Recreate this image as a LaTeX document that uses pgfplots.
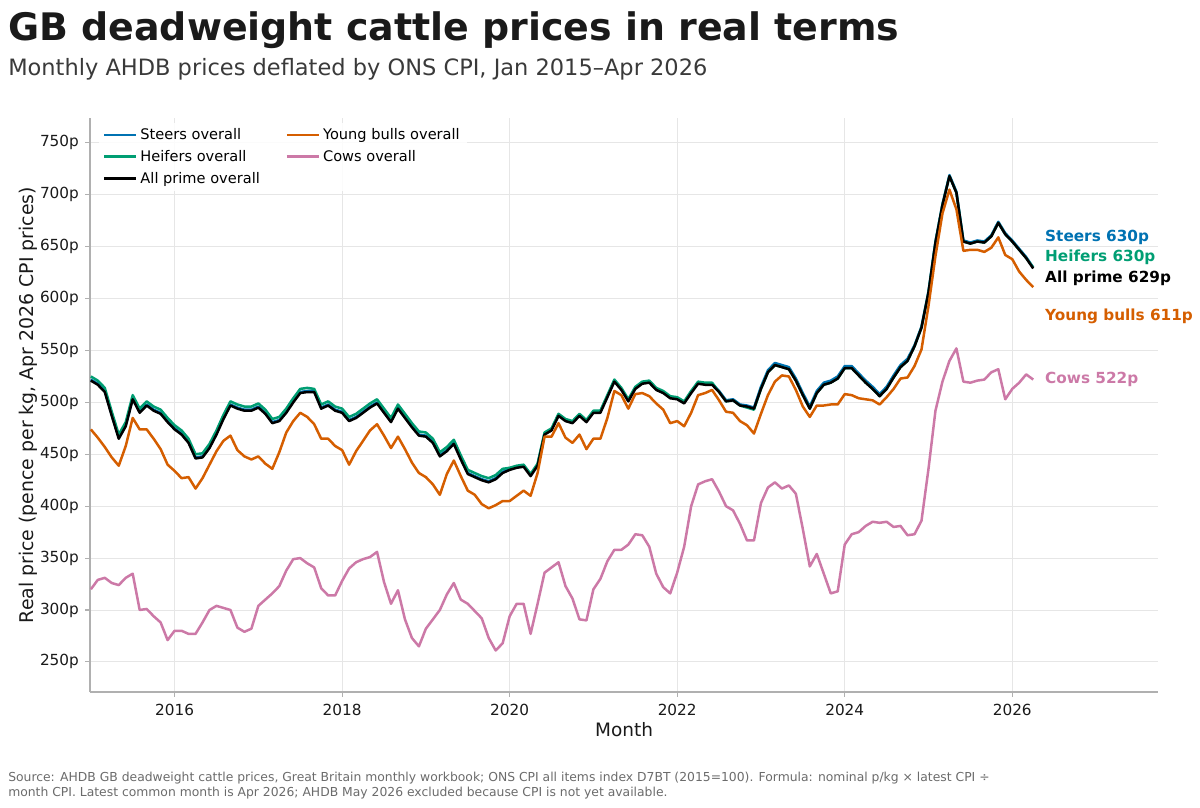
\documentclass[border=0pt]{standalone}
\usepackage{fontspec}
\setmainfont{DejaVu Sans}
\usepackage{pgfplots}
\usepackage{pgfplotstable}
\pgfplotsset{compat=1.18}
\definecolor{cst}{HTML}{0072B2}
\definecolor{che}{HTML}{009E73}
\definecolor{cyb}{HTML}{D55E00}
\definecolor{cco}{HTML}{CC79A7}
\definecolor{gridc}{HTML}{E6E6E6}
\definecolor{spinec}{HTML}{B0B0B0}
\definecolor{titlec}{HTML}{1A1A1A}
\definecolor{subc}{HTML}{3A3A3A}
\definecolor{srcc}{HTML}{6B6B6B}
\pgfplotstableread{
m st he pr yb co
0 522 525 521 474 320
1 518 521 517 466 329
2 511 514 510 457 331
3 488 491 487 447 326
4 466 469 465 439 324
5 478 481 477 458 331
6 504 507 503 485 335
7 491 494 490 474 300
8 498 501 497 474 301
9 493 496 492 465 294
10 490 493 489 455 288
11 482 485 481 440 271
12 475 478 474 434 280
13 470 473 469 427 280
14 462 465 461 428 277
15 447 450 446 417 277
16 448 451 447 427 288
17 457 460 456 440 300
18 470 473 469 453 304
19 485 488 484 463 302
20 498 501 497 468 300
21 495 498 494 454 283
22 493 496 492 448 279
23 493 496 492 445 282
24 496 499 495 448 304
25 490 493 489 441 310
26 481 484 480 436 316
27 483 486 482 452 323
28 491 494 490 471 338
29 501 504 500 482 349
30 510 513 509 490 350
31 511 514 510 486 345
32 511 513 510 479 341
33 495 498 494 465 321
34 498 501 497 465 314
35 493 496 492 458 314
36 491 494 490 454 328
37 483 486 482 440 340
38 486 489 485 453 346
39 491 494 490 463 349
40 496 499 495 473 351
41 500 503 499 479 356
42 491 494 490 468 327
43 482 485 481 456 306
44 495 498 494 467 319
45 486 489 485 455 291
46 477 480 476 442 273
47 469 472 468 432 265
48 468 471 467 428 282
49 462 465 461 421 291
50 449 452 448 411 300
51 454 457 453 431 315
52 461 464 460 444 326
53 446 449 445 429 310
54 432 435 431 415 306
55 429 432 428 411 299
56 426 429 425 402 292
57 424 427 423 398 273
58 427 430 426 401 261
59 433 436 432 405 268
60 436 437 435 405 294
61 438 439 437 410 306
62 439 440 438 415 306
63 430 431 429 410 277
64 440 441 439 432 306
65 470 471 469 467 336
66 474 475 473 467 341
67 488 489 487 480 346
68 483 484 482 466 323
69 481 482 480 461 311
70 488 489 487 469 291
71 482 483 481 455 290
72 491 492 490 465 320
73 491 492 490 465 330
74 506 507 505 485 347
75 521 522 520 511 358
76 513 514 512 507 358
77 502 503 501 494 363
78 514 515 513 508 373
79 519 520 518 509 372
80 520 521 519 506 361
81 513 514 512 499 335
82 510 511 509 493 322
83 505 506 504 480 316
84 504 505 503 482 336
85 500 501 499 477 361
86 510 511 509 490 400
87 519 520 518 507 421
88 518 519 517 509 424
89 518 519 517 512 426
90 511 510 510 502 414
91 502 501 501 491 400
92 503 502 502 490 396
93 498 497 497 482 383
94 497 495 496 478 367
95 495 493 494 470 367
96 515 513 513 489 403
97 531 529 529 507 418
98 538 536 536 520 423
99 536 534 534 526 417
100 534 532 532 525 420
101 523 521 521 512 412
102 509 507 507 496 378
103 496 494 494 486 342
104 511 509 509 497 354
105 519 517 517 497 335
106 521 519 519 498 316
107 525 523 523 498 318
108 535 533 533 508 363
109 535 533 533 507 373
110 528 526 526 504 375
111 521 519 519 503 381
112 515 513 513 502 385
113 508 506 506 498 384
114 515 513 513 505 385
115 526 524 524 513 380
116 536 534 534 523 381
117 542 540 540 524 372
118 555 554 554 535 373
119 573 572 572 551 386
120 607 606 606 593 436
121 655 654 654 641 492
122 691 690 690 682 520
123 719 718 718 705 540
124 703 702 702 686 552
125 656 655 655 646 520
126 654 653 653 647 519
127 656 655 655 647 521
128 655 654 654 645 522
129 661 660 660 649 529
130 674 673 673 659 532
131 663 662 662 642 503
132 656 655 655 638 513
133 648 647 647 626 519
134 640 639 639 618 527
135 630 630 629 611 522
}\cattle

\begin{document}
\begin{tikzpicture}
\useasboundingbox (-64.8pt,-82.8pt) rectangle (799.2pt,498.24pt);
\begin{axis}[
  at={(0pt,0pt)}, anchor=south west,
  scale only axis, width=768.96pt, height=413.28pt,
  xmin=2014.99, xmax=2027.74, ymin=221, ymax=774,
  clip=false,
  axis x line*=bottom, axis y line*=left,
  axis line style={spinec, line width=0.8pt},
  tick align=outside, major tick length=3.5pt,
  tick style={color=spinec, line width=0.8pt},
  grid=major, grid style={gridc, line width=0.6pt},
  xtick={2016,2018,2020,2022,2024,2026},
  xticklabels={2016,2018,2020,2022,2024,2026},
  ytick={250,300,350,400,450,500,550,600,650,700,750},
  yticklabels={250p,300p,350p,400p,450p,500p,550p,600p,650p,700p,750p},
  ticklabel style={font=\fontsize{11}{13}\selectfont, color=titlec},
  xticklabel style={yshift=-2pt},
  yticklabel style={xshift=-1pt},
  legend cell align=left,
  legend columns=2,
  legend style={at={(0.008,0.992)}, anchor=north west, draw=none, fill=white, fill opacity=0.85, text opacity=1,
    font=\fontsize{10.5}{12.5}\selectfont, row sep=2.2pt,
    /tikz/every even column/.append style={column sep=16.5pt}},
  legend image code/.code={\draw[#1, line width=2pt] (0pt,0pt) -- (23pt,0pt);},
  every axis plot/.append style={line width=1.8pt, line join=round},
]
\addlegendimage{cst}\addlegendentry{Steers overall}
\addlegendimage{cyb}\addlegendentry{Young bulls overall}
\addlegendimage{che}\addlegendentry{Heifers overall}
\addlegendimage{cco}\addlegendentry{Cows overall}
\addlegendimage{black}\addlegendentry{All prime overall}
\addplot[cst, forget plot] table[x expr=2015+\thisrow{m}/12, y=st]{\cattle};
\addplot[che, forget plot] table[x expr=2015+\thisrow{m}/12, y=he]{\cattle};
\addplot[black, forget plot] table[x expr=2015+\thisrow{m}/12, y=pr]{\cattle};
\addplot[cyb, forget plot] table[x expr=2015+\thisrow{m}/12, y=yb]{\cattle};
\addplot[cco, forget plot] table[x expr=2015+\thisrow{m}/12, y=co]{\cattle};
\node[anchor=west, inner sep=0pt, font=\bfseries\fontsize{11}{13}\selectfont, text=cst] at (axis cs:2026.39,659) {Steers 630p};
\node[anchor=west, inner sep=0pt, font=\bfseries\fontsize{11}{13}\selectfont, text=che] at (axis cs:2026.39,640) {Heifers 630p};
\node[anchor=west, inner sep=0pt, font=\bfseries\fontsize{11}{13}\selectfont, text=black] at (axis cs:2026.39,620) {All prime 629p};
\node[anchor=west, inner sep=0pt, font=\bfseries\fontsize{11}{13}\selectfont, text=cyb] at (axis cs:2026.39,583) {Young bulls 611p};
\node[anchor=west, inner sep=0pt, font=\bfseries\fontsize{11}{13}\selectfont, text=cco] at (axis cs:2026.39,522) {Cows 522p};
\end{axis}
\node[anchor=base west, inner sep=0pt, font=\bfseries\fontsize{27.3}{32}\selectfont, text=titlec] at (-59.04pt,469.4pt) {GB deadweight cattle prices in real terms};
\node[anchor=base west, inner sep=0pt, font=\fontsize{16.2}{19}\selectfont, text=subc] at (-59.04pt,444.2pt) {Monthly AHDB prices deflated by ONS CPI, Jan 2015–Apr 2026};
\node[anchor=center, inner sep=0pt, rotate=90, font=\fontsize{13.6}{15}\selectfont, text=titlec] at (-44.64pt,206.6pt) {Real price (pence per kg, Apr 2026 CPI prices)};
\node[anchor=center, inner sep=0pt, font=\fontsize{13.3}{15}\selectfont, text=titlec] at (384.5pt,-27.4pt) {Month};
\node[anchor=base west, inner sep=0pt, font=\fontsize{8.9}{10.8}\selectfont, text=srcc] at (-59.04pt,-64.1pt) {Source: AHDB GB deadweight cattle prices, Great Britain monthly workbook; ONS CPI all items index D7BT (2015=100). Formula: nominal p/kg × latest CPI ÷};
\node[anchor=base west, inner sep=0pt, font=\fontsize{8.9}{10.8}\selectfont, text=srcc] at (-59.04pt,-74.9pt) {month CPI. Latest common month is Apr 2026; AHDB May 2026 excluded because CPI is not yet available.};
\end{tikzpicture}
\end{document}
